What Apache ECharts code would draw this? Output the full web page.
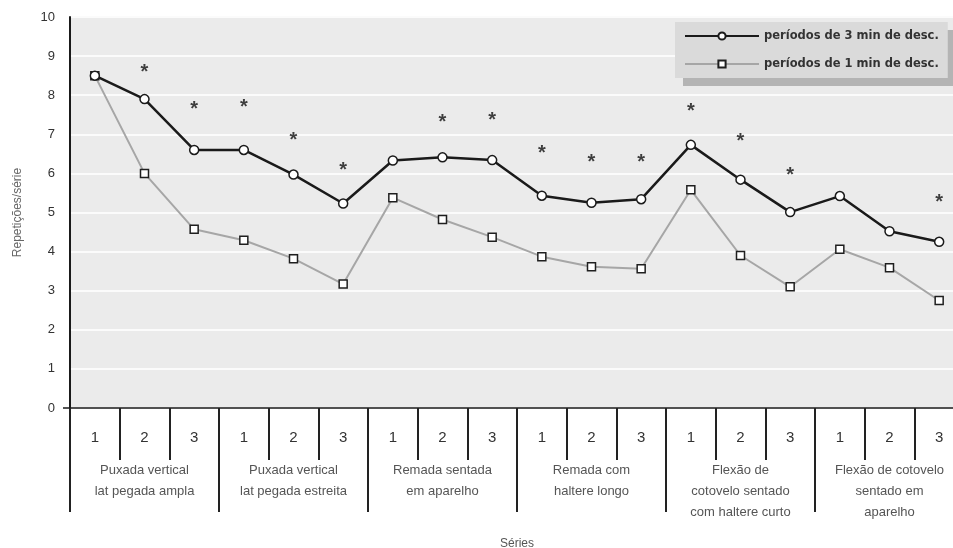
<!DOCTYPE html>
<html>
<head>
<meta charset="utf-8">
<script src="https://cdn.jsdelivr.net/npm/echarts@6/dist/echarts.min.js"></script>
<style>
  html, body { margin: 0; padding: 0; background: #ffffff; }
  #chart { width: 953px; height: 548px; }
</style>
</head>
<body>
<div id="chart"></div>
<script>
// Exercise groups and the three sets within each one
const groups = [
  'Puxada vertical\nlat pegada ampla',
  'Puxada vertical\nlat pegada estreita',
  'Remada sentada\nem aparelho',
  'Remada com\nhaltere longo',
  'Flexão de\ncotovelo sentado\ncom haltere curto',
  'Flexão de cotovelo\nsentado em\naparelho'
];
const setLabels = ['1', '2', '3'];
const sets = groups.flatMap(() => setLabels);

// Repetitions per set
const rest3min = [8.5, 7.9, 6.6, 6.6, 5.97, 5.23, 6.33, 6.41, 6.34, 5.43, 5.25, 5.34, 6.73, 5.84, 5.01, 5.42, 4.52, 4.25];
const rest1min = [8.5, 6.0, 4.57, 4.29, 3.82, 3.17, 5.38, 4.82, 4.37, 3.87, 3.61, 3.56, 5.58, 3.9, 3.1, 4.06, 3.59, 2.75];

// Height of the significance asterisks (null = no difference marked)
const signif = [null, 8.67, 7.72, 7.75, 6.92, 6.15, null, 7.38, 7.42, 6.58, 6.36, 6.36, 7.66, 6.9, 6.03, null, null, 5.33];

const yTicks = { min: 0, max: 10, interval: 1 };

const chart = echarts.init(document.getElementById('chart'), null, { renderer: 'canvas' });

const font = 'Liberation Sans, Arial, sans-serif';

chart.setOption({
  animation: false,
  backgroundColor: '#ffffff',
  textStyle: { fontFamily: font },
  grid: {
    left: 70, top: 17, width: 894, height: 391,
    outerBoundsMode: 'none',
    containLabel: false,
    show: true, backgroundColor: '#ebebeb', borderWidth: 0
  },
  legend: {
    data: ['períodos de 3 min de desc.', 'períodos de 1 min de desc.'],
    orient: 'vertical',
    left: 675, top: 22,
    padding: [8, 9, 8, 9],
    itemGap: 16,
    itemWidth: 74, itemHeight: 9,
    backgroundColor: '#dadada',
    shadowColor: '#b4b4b4', shadowBlur: 0, shadowOffsetX: 8, shadowOffsetY: 8,
    textStyle: { fontFamily: 'DejaVu Sans, sans-serif', fontSize: 11.5, fontWeight: 'bold', color: '#333333' }
  },
  xAxis: [
    {
      type: 'category',
      data: sets,
      position: 'bottom',
      boundaryGap: true,
      axisLine: { show: true, lineStyle: { color: '#1a1a1a', width: 1.5 } },
      axisTick: { show: true, interval: 0, length: 52, lineStyle: { color: '#222222', width: 2 } },
      axisLabel: { interval: 0, margin: 22, fontSize: 15, color: '#333333', fontFamily: font },
      splitLine: { show: false }
    },
    {
      type: 'category',
      data: groups,
      position: 'bottom',
      boundaryGap: true,
      axisLine: { show: false },
      axisTick: { show: true, interval: 0, length: 104, lineStyle: { color: '#222222', width: 2 } },
      axisLabel: { interval: 0, margin: 52, fontSize: 13, lineHeight: 21, color: '#555555', fontFamily: font },
      name: 'Séries',
      nameLocation: 'middle',
      nameGap: 130,
      nameTextStyle: { fontSize: 12, color: '#555555', fontFamily: font }
    }
  ],
  yAxis: {
    type: 'value',
    min: yTicks.min, max: yTicks.max, interval: yTicks.interval,
    name: 'Repetições/série',
    nameLocation: 'middle',
    nameGap: 46,
    nameTextStyle: { fontSize: 12, color: '#666666', fontFamily: font },
    axisLine: { show: true, lineStyle: { color: '#1a1a1a', width: 2 } },
    axisTick: { show: false },
    axisLabel: { margin: 15, fontSize: 13, color: '#333333', fontFamily: font },
    splitLine: { show: true, lineStyle: { color: '#fbfbfb', width: 2 } }
  },
  graphic: [
    { type: 'line', shape: { x1: 63, y1: 408, x2: 70, y2: 408 }, style: { stroke: '#1a1a1a', lineWidth: 1.5 } }
  ],
  series: [
    {
      name: 'períodos de 1 min de desc.',
      type: 'line',
      data: rest1min,
      symbol: 'rect',
      symbolSize: 8,
      lineStyle: { color: '#a6a6a6', width: 2 },
      itemStyle: { color: '#ffffff', borderColor: '#1f1f1f', borderWidth: 1.5 },
      z: 3
    },
    {
      name: 'períodos de 3 min de desc.',
      type: 'line',
      data: rest3min,
      symbol: 'circle',
      symbolSize: 9,
      lineStyle: { color: '#1a1a1a', width: 2.5 },
      itemStyle: { color: '#ffffff', borderColor: '#1a1a1a', borderWidth: 1.5 },
      z: 4
    },
    {
      name: 'signif',
      type: 'scatter',
      data: signif,
      symbolSize: 0,
      silent: true,
      label: {
        show: true,
        position: 'inside',
        formatter: '*',
        fontSize: 20,
        fontWeight: 'bold',
        color: '#111111',
        fontFamily: font,
        offset: [0, 3]
      }
    }
  ]
});
</script>
</body>
</html>
